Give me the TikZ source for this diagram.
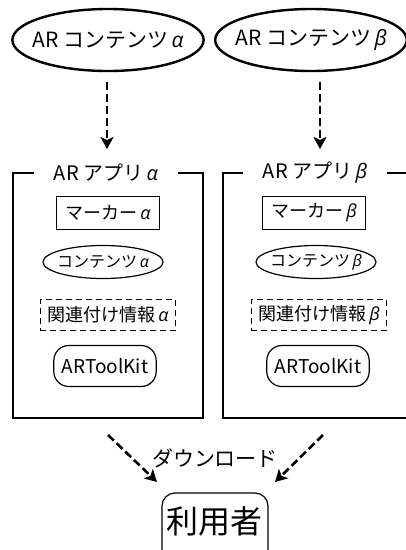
\documentclass[tikz,border=0pt]{standalone}
\usepackage{fontspec}
\setmainfont{Noto Sans CJK JP}
\newfontfamily\gkfont{Open Sans}
\usetikzlibrary{shapes.geometric,arrows.meta}
\newcommand{\galpha}{\,{\gkfont\itshape α}}
\newcommand{\gbeta}{\,{\gkfont\itshape β}}
\tikzset{
  topell/.style={ellipse, draw, line width=2.4pt, minimum width=190pt, minimum height=62pt, inner xsep=-8pt, inner ysep=0pt, font=\fontsize{21}{25}\selectfont},
  appframe/.style={draw, line width=1.2pt},
  apptitle/.style={fill=white, inner xsep=20pt, inner ysep=2pt, font=\fontsize{20}{24}\selectfont},
  markerbox/.style={draw, line width=1.2pt, rectangle, minimum height=33pt, inner xsep=9pt, font=\fontsize{18}{21}\selectfont},
  contell/.style={draw, line width=1.2pt, ellipse, minimum height=33pt, minimum width=120pt, inner xsep=-20pt, inner ysep=-4pt, font=\fontsize{16}{19}\selectfont},
  relbox/.style={draw, line width=1.2pt, dash pattern=on 6pt off 4pt, rectangle, minimum height=31pt, inner xsep=7pt, font=\fontsize{18}{21}\selectfont},
  tkbox/.style={draw, line width=1.2pt, rectangle, rounded corners=15pt, minimum height=41pt, inner xsep=8pt, font=\fontsize{19}{22}\selectfont},
  darrow/.style={line width=2.6pt, dash pattern=on 8pt off 4pt, -{Stealth[length=12pt,width=13pt,inset=3pt]}},
  userbox/.style={draw, line width=1.2pt, rectangle, rounded corners=13pt, minimum width=106pt, minimum height=72pt, inner sep=0pt},
  usertext/.style={inner sep=0pt, font=\fontsize{32}{36}\selectfont},
  dllabel/.style={inner sep=1pt, font=\fontsize{21}{25}\selectfont}
}
\begin{document}
\begin{tikzpicture}[x=1pt,y=-1pt]
\useasboundingbox (0,0) rectangle (406,550);
\clip (0,0) rectangle (406,550);
\fill[white] (0,0) rectangle (406,550);

% top contents
\node[topell] (ca) at (108,40) {AR コンテンツ\galpha};
\node[topell] (cb) at (311,40) {AR コンテンツ\gbeta};

% app frames
\draw[appframe] (13,173) rectangle (203,418);
\draw[appframe] (223,173) rectangle (413,418);
\node[apptitle] (aa) at (106,173) {AR アプリ\galpha};
\node[apptitle] (ab) at (315,173) {AR アプリ\gbeta};

\coordinate (fa) at (107,82);
\coordinate (ta) at (107,149);
\coordinate (fb) at (320,82);
\coordinate (tb) at (320,149);
\draw[darrow] (fa) -- (ta);
\draw[darrow] (fb) -- (tb);

% inner alpha
\node[markerbox] (ma) at (108,213) {マーカー\galpha};
\node[contell] (ka) at (103,262) {コンテンツ\galpha};
\node[relbox] (ra) at (108,315) {関連付け情報\galpha};
\node[tkbox] (kta) at (105,366) {ARToolKit};

% inner beta
\node[markerbox] (mb) at (314,213) {マーカー\gbeta};
\node[contell] (kb) at (316,262) {コンテンツ\gbeta};
\node[relbox] (rb) at (319,315) {関連付け情報\gbeta};
\node[tkbox] (ktb) at (318,366) {ARToolKit};

% bottom
\node[userbox] (user) at (215,529) {};
\node[usertext] (usertxt) at (214,521) {利用者};
\node[dllabel] (dl) at (215,458) {ダウンロード};
\coordinate (sa) at (108,435);
\coordinate (ea) at (157,482);
\coordinate (sb) at (323,435);
\coordinate (eb) at (275,482);
\draw[darrow] (sa) -- (ea);
\draw[darrow] (sb) -- (eb);
\end{tikzpicture}
\end{document}
